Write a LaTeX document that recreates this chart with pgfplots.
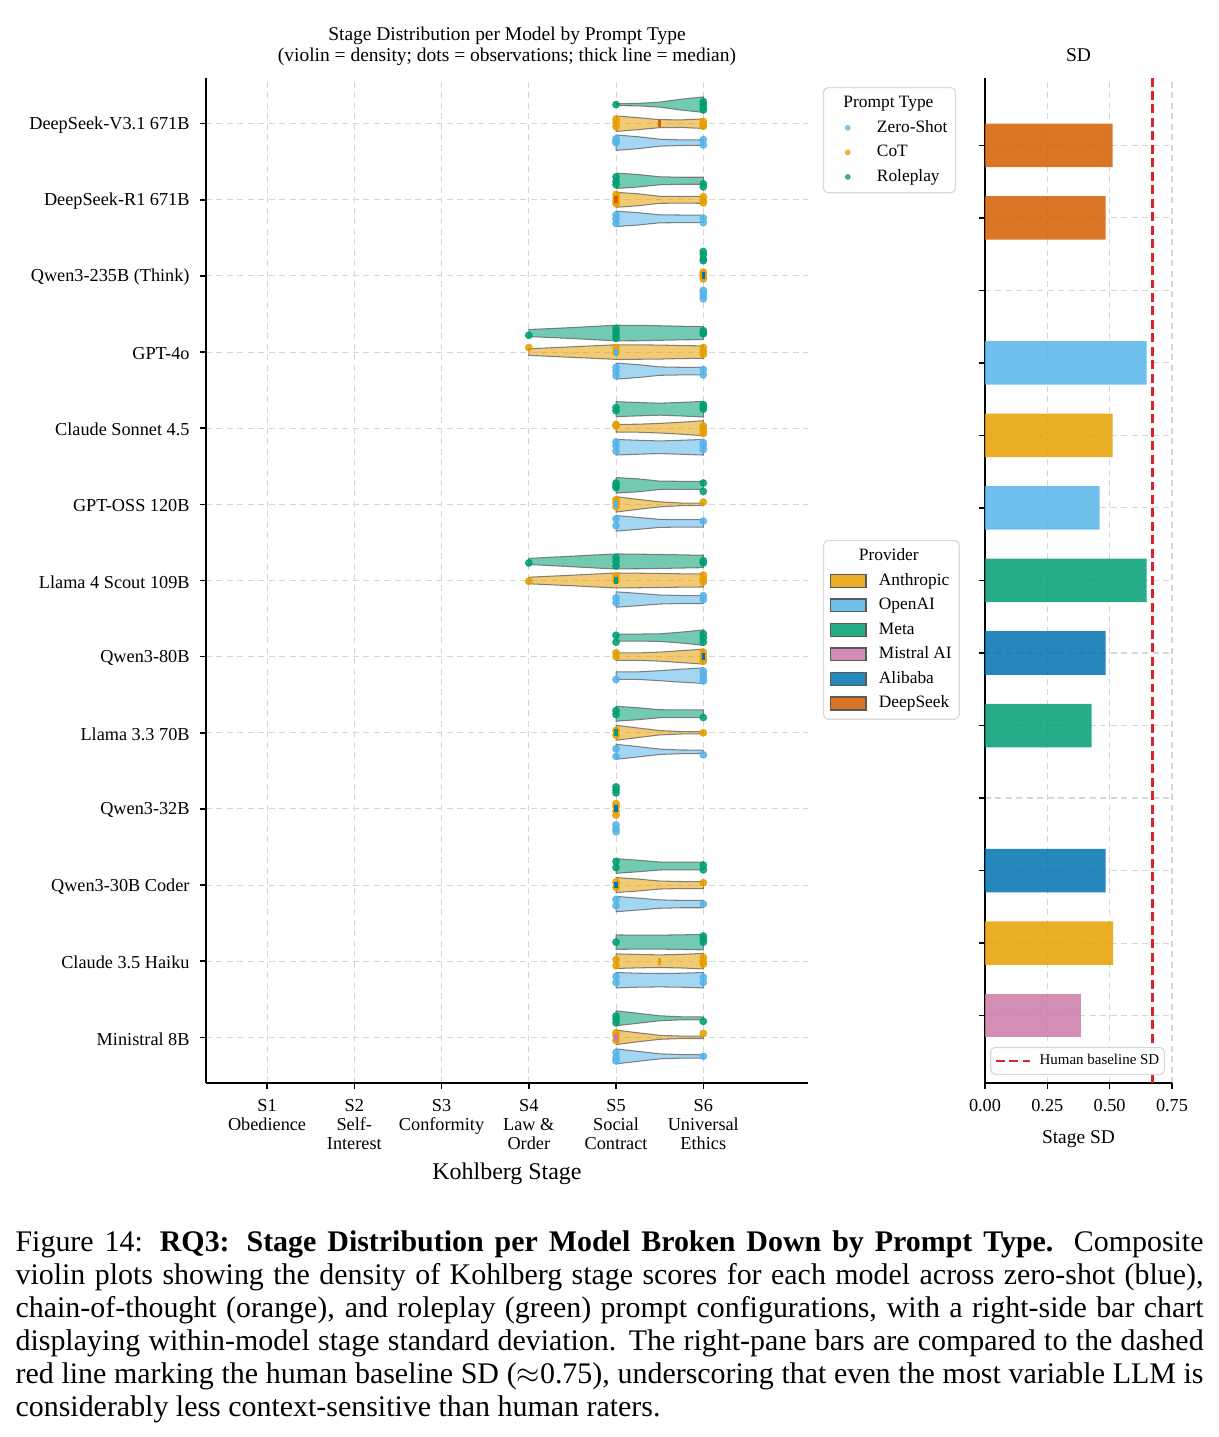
\documentclass[border=0pt]{standalone}
\usepackage{fontspec}
\setmainfont{Liberation Serif}
\usepackage{pgfplots}
\usepackage{pgfplotstable}
\pgfplotsset{compat=1.18}

\definecolor{zsC}{HTML}{56B4E9}
\definecolor{cotC}{HTML}{E69F00}
\definecolor{rpC}{HTML}{009E73}
\definecolor{anthC}{HTML}{E69F00}
\definecolor{oaiC}{HTML}{56B4E9}
\definecolor{metaC}{HTML}{009E73}
\definecolor{misC}{HTML}{CC79A7}
\definecolor{aliC}{HTML}{0072B2}
\definecolor{dsC}{HTML}{D55E00}
\definecolor{hbC}{HTML}{D62728}
\definecolor{gridC}{HTML}{D6D6D6}

\def\vk{0.013123}

% violin half-widths (px) : rows in polygon order
\pgfplotstableread{
x s rp cot zs
5 -1 1 7.8 7.7
5.25 -1 1.2 6 6
5.5 -1 2.5 4 3.5
5.75 -1 5.5 3.8 2.8
6 -1 7.7 4.8 2.7
6 1 7.7 4.8 2.7
5.75 1 5.5 3.8 2.8
5.5 1 2.5 4 3.5
5.25 1 1.2 6 6
5 1 1 7.8 7.7
}\vA
\pgfplotstableread{
x s rp cot zs
5 -1 7.7 7.5 7.7
5.25 -1 6.3 6 6.2
5.5 -1 4 3.5 4
5.75 -1 3.5 3.3 3.8
6 -1 3.5 3.5 3.8
6 1 3.5 3.5 3.8
5.75 1 3.5 3.3 3.8
5.5 1 4 3.5 4
5.25 1 6.3 6 6.2
5 1 7.7 7.5 7.7
}\vB
\pgfplotstableread{
x s rp cot zs
4 -1 3.5 3.3 nan
4.25 -1 4.5 4.3 nan
4.5 -1 5.5 5.3 nan
4.75 -1 6.7 6.3 nan
5 -1 7.8 7.3 8
5.25 -1 7.7 7.2 6.5
5.5 -1 7.3 7 4.2
5.75 -1 6.8 6.5 3.8
6 -1 6.5 6.2 3.8
6 1 6.5 6.2 3.8
5.75 1 6.8 6.5 3.8
5.5 1 7.3 7 4.2
5.25 1 7.7 7.2 6.5
5 1 7.8 7.3 8
4.75 1 6.7 6.3 nan
4.5 1 5.5 5.3 nan
4.25 1 4.5 4.3 nan
4 1 3.5 3.3 nan
}\vD
\pgfplotstableread{
x s rp cot zs
5 -1 7.5 3.8 7.8
5.25 -1 6.7 4 7
5.5 -1 6 4.8 6.3
5.75 -1 6.8 6 7
6 -1 7.8 7.5 7.8
6 1 7.8 7.5 7.8
5.75 1 6.8 6 7
5.5 1 6 4.8 6.3
5.25 1 6.7 4 7
5 1 7.5 3.8 7.8
}\vE
\pgfplotstableread{
x s rp cot zs
5 -1 7.8 7.7 7.8
5.25 -1 6.5 5 6
5.5 -1 4.2 2.5 4
5.75 -1 4 1.3 3.7
6 -1 4 1.2 3.7
6 1 4 1.2 3.7
5.75 1 4 1.3 3.7
5.5 1 4.2 2.5 4
5.25 1 6.5 5 6
5 1 7.8 7.7 7.8
}\vF
\pgfplotstableread{
x s rp cot zs
4 -1 3 3.3 nan
4.25 -1 4.2 4.3 nan
4.5 -1 5.3 5.3 nan
4.75 -1 6.5 6.4 nan
5 -1 7.5 7.5 7.7
5.25 -1 7.3 7.3 6.2
5.5 -1 7 7 4.5
5.75 -1 6.6 6.7 4
6 -1 6.2 6.5 4
6 1 6.2 6.5 4
5.75 1 6.6 6.7 4
5.5 1 7 7 4.5
5.25 1 7.3 7.3 6.2
5 1 7.5 7.5 7.7
4.75 1 6.5 6.4 nan
4.5 1 5.3 5.3 nan
4.25 1 4.2 4.3 nan
4 1 3 3.3 nan
}\vG
\pgfplotstableread{
x s rp cot zs
5 -1 3.5 3.7 3.7
5.25 -1 3.5 3.7 3.8
5.5 -1 3.8 4.5 5
5.75 -1 5.5 6 6.5
6 -1 7.7 7.5 7.8
6 1 7.7 7.5 7.8
5.75 1 5.5 6 6.5
5.5 1 3.8 4.5 5
5.25 1 3.5 3.7 3.8
5 1 3.5 3.7 3.7
}\vH
\pgfplotstableread{
x s rp cot zs
5 -1 7.5 7.5 7.5
5.25 -1 6 4.8 5.2
5.5 -1 4 2.2 2.7
5.75 -1 3.8 1.2 1.8
6 -1 3.8 1.2 1.7
6 1 3.8 1.2 1.7
5.75 1 3.8 1.2 1.8
5.5 1 4 2.2 2.7
5.25 1 6 4.8 5.2
5 1 7.5 7.5 7.5
}\vI
\pgfplotstableread{
x s rp cot zs
5 -1 7.3 7.5 7.7
5.25 -1 5.8 6 6
5.5 -1 4 4 4.2
5.75 -1 3.8 3.5 3.7
6 -1 4 3.5 3.7
6 1 4 3.5 3.7
5.75 1 3.8 3.5 3.7
5.5 1 4 4 4.2
5.25 1 5.8 6 6
5 1 7.3 7.5 7.7
}\vK
\pgfplotstableread{
x s rp cot zs
5 -1 7.2 7.3 7.7
5.25 -1 7 6.7 7
5.5 -1 7 6.3 6.7
5.75 -1 7.3 6.8 7
6 -1 7.7 7.8 7.7
6 1 7.7 7.8 7.7
5.75 1 7.3 6.8 7
5.5 1 7 6.3 6.7
5.25 1 7 6.7 7
5 1 7.2 7.3 7.7
}\vL
\pgfplotstableread{
x s rp cot zs
5 -1 7.5 7.3 7.5
5.25 -1 5 4.5 5
5.5 -1 2.5 2 2.5
5.75 -1 1.5 1.2 1.8
6 -1 1.5 1.2 1.7
6 1 1.5 1.2 1.7
5.75 1 1.5 1.2 1.8
5.5 1 2.5 2 2.5
5.25 1 5 4.5 5
5 1 7.5 7.3 7.5
}\vM

% observations (jittered)
\pgfplotstableread{
x y
5 0.25
6 0.29
6 0.25
6 0.21
6 0.18
5 -0.70
5 -0.76
5 -0.80
6 -0.79
6 -0.83
6 -1.68
6 -1.72
6 -1.78
6 -1.80
4 -2.78
5 -2.69
5 -2.73
5 -2.78
5 -2.82
6 -2.72
6 -2.75
6 -2.76
5 -3.73
5 -3.77
6 -3.69
6 -3.72
6 -3.75
5 -4.72
5 -4.75
5 -4.78
6 -4.72
6 -4.83
4 -5.77
5 -5.70
5 -5.75
5 -5.81
6 -5.74
6 -5.77
5 -6.72
5 -6.81
6 -6.70
6 -6.75
6 -6.81
5 -7.71
5 -7.76
6 -7.80
5 -8.71
5 -8.75
5 -8.79
5 -9.69
5 -9.77
6 -9.74
6 -9.80
5 -10.75
6 -10.67
6 -10.71
6 -10.75
5 -11.72
5 -11.76
5 -11.81
6 -11.79
}\dRP
\pgfplotstableread{
x y
5 0.06
5 0.01
5 -0.04
6 0.03
6 -0.01
6 -0.035
5 -0.93
5 -0.98
5 -1.02
5 -1.05
6 -0.96
6 -1.01
6 -1.04
6 -1.95
6 -1.97
6 -2.01
6 -2.04
4 -2.94
5 -2.94
5 -3.00
6 -2.94
6 -2.99
6 -3.03
5 -3.95
5 -3.97
6 -3.97
6 -4.00
6 -4.04
6 -4.07
5 -4.94
5 -4.98
5 -5.03
6 -4.97
4 -6.01
5 -5.94
5 -6.00
6 -5.93
6 -5.98
6 -6.02
5 -6.95
5 -7.00
6 -6.94
6 -6.99
6 -7.03
6 -7.06
5 -7.97
5 -8.03
6 -8.00
5 -8.93
5 -8.97
5 -9.03
5 -9.08
5 -9.96
5 -10.03
6 -9.97
5 -10.98
5 -11.06
6 -10.95
6 -11.00
6 -11.04
5 -11.94
5 -11.98
5 -12.04
6 -11.95
}\dCOT
\pgfplotstableread{
x y
5 -0.20
5 -0.23
5 -0.25
6 -0.21
6 -0.28
5 -1.20
5 -1.25
5 -1.31
6 -1.24
6 -1.30
6 -2.19
6 -2.22
6 -2.26
6 -2.30
5 -3.20
5 -3.25
5 -3.31
6 -3.23
6 -3.30
5 -4.18
5 -4.23
5 -4.30
6 -4.19
6 -4.23
6 -4.28
5 -5.19
5 -5.28
6 -5.22
5 -6.23
5 -6.29
6 -6.20
6 -6.25
5 -7.30
6 -7.19
6 -7.24
6 -7.28
6 -7.32
5 -8.21
5 -8.31
6 -8.29
5 -9.21
5 -9.26
5 -9.30
5 -10.19
5 -10.27
6 -10.25
5 -11.20
5 -11.28
6 -11.21
6 -11.28
5 -12.20
5 -12.27
5 -12.31
6 -12.25
}\dZS

\newcommand\violins[2]{%
 \addplot[vio, fill=rpC] table[x=x, y expr={-#2+0.25+\thisrow{s}*\thisrow{rp}*\vk}] {#1} -- cycle;
 \addplot[vio, fill=cotC] table[x=x, y expr={-#2+\thisrow{s}*\thisrow{cot}*\vk}] {#1} -- cycle;
 \addplot[vio, fill=zsC] table[x=x, y expr={-#2-0.25+\thisrow{s}*\thisrow{zs}*\vk}] {#1} -- cycle;
}

\pgfplotsset{
 vio/.style={draw=black!60, line width=0.35pt, fill opacity=0.55, draw opacity=0.8, forget plot},
 obs/.style={only marks, mark=*, mark size=1.1pt, color=#1, fill opacity=0.85, draw opacity=0.85, forget plot},
 med/.style={only marks, mark=|, mark size=1.15pt, mark options={draw=#1, line width=1.1pt, solid}, forget plot},
 hbar/.style={xbar, bar width=0.6, bar shift=0pt, fill=#1, fill opacity=0.85, draw=none, forget plot},
 common/.style={
  scale only axis, height=335.85pt, anchor=south west,
  axis lines*=left, axis line style={line width=0.6pt},
  tick align=outside, major tick length=2pt, tick style={black, line width=0.5pt},
  grid=major, major grid style={gridC, dash pattern=on 2pt off 1.5pt, line width=0.35pt},
  ytick={-12,-11,...,0},
  xticklabel style={align=center, font=\fontsize{6.1}{6.4}\selectfont, inner sep=0pt, yshift=-3.3pt},
  title style={align=center, font=\fontsize{6.5}{6.9}\selectfont, at={(0.5,1)}, anchor=south, inner sep=0pt},
 },
}

\begin{document}
\begin{tikzpicture}
\useasboundingbox (0,0) rectangle (407.36pt,480.21pt);

% ---------------- left: violins ----------------
\begin{axis}[common,
 at={(68.84pt,118.30pt)}, width=201.17pt,
 xmin=0.3, xmax=7.2, ymin=-12.6, ymax=0.6,
 xtick={1,...,6},
 xticklabels={S1\\Obedience, S2\\Self-\\Interest, S3\\Conformity, S4\\Law \&\\Order, S5\\Social\\Contract, S6\\Universal\\Ethics},
 yticklabels={Ministral 8B, Claude 3.5 Haiku, Qwen3-30B Coder, Qwen3-32B, Llama 3.3 70B, Qwen3-80B, Llama 4 Scout 109B, GPT-OSS 120B, Claude Sonnet 4.5, GPT-4o, Qwen3-235B (Think), DeepSeek-R1 671B, DeepSeek-V3.1 671B},
 yticklabel style={font=\fontsize{6.1}{6.4}\selectfont, inner sep=0pt, xshift=-3.3pt, yshift=-0.5pt},
 xlabel={Kohlberg Stage},
 xlabel style={font=\fontsize{8}{9}\selectfont, at={(axis description cs:0.5,0)}, anchor=base, inner sep=0pt, yshift=-32.4pt},
 title={Stage Distribution per Model by Prompt Type\\(violin = density; dots = observations; thick line = median)},
 title style={yshift=-2.1pt},
 legend style={at={(1.0249,0.991)}, anchor=north west, font=\fontsize{5.8}{6.5}\selectfont,
   draw=black!15, rounded corners=1.5pt, fill=white, inner xsep=2.2pt, inner ysep=2pt,
   row sep=1.7pt, column sep=8.5pt,
   nodes={inner sep=0.5pt, text height=4.2pt, text depth=1.3pt}},
 legend cell align=left,
 legend image code/.code={\path (-5.7pt,0pt); \draw[#1] plot coordinates {(0pt,0pt)};},
]
\addlegendimage{empty legend}
\addlegendentry{\hspace{-11.2pt}Prompt Type}
\addlegendimage{only marks, mark=*, mark size=0.75pt, color=zsC, fill opacity=0.7, draw opacity=0.7}
\addlegendentry{Zero-Shot}
\addlegendimage{only marks, mark=*, mark size=0.75pt, color=cotC, fill opacity=0.7, draw opacity=0.7}
\addlegendentry{CoT}
\addlegendimage{only marks, mark=*, mark size=0.75pt, color=rpC, fill opacity=0.7, draw opacity=0.7}
\addlegendentry{Roleplay}

\violins{\vA}{0}
\violins{\vB}{1}
\violins{\vD}{3}
\violins{\vE}{4}
\violins{\vF}{5}
\violins{\vG}{6}
\violins{\vH}{7}
\violins{\vI}{8}
\violins{\vK}{10}
\violins{\vL}{11}
\violins{\vM}{12}

\addplot[obs=rpC] table[x=x, y=y] {\dRP};
\addplot[obs=cotC] table[x=x, y=y] {\dCOT};
\addplot[obs=zsC] table[x=x, y=y] {\dZS};

% medians, coloured by provider
\addplot[med=dsC] coordinates {(5.5,0) (5,-1)};
\addplot[med=aliC] coordinates {(6,-2) (6,-7) (5,-9) (5,-10)};
\addplot[med=oaiC] coordinates {(5,-3) (5,-5)};
\addplot[med=anthC] coordinates {(6,-4) (5.5,-11)};
\addplot[med=metaC] coordinates {(5,-6) (5,-8)};
\addplot[med=misC] coordinates {(5,-12)};
\end{axis}

% ---------------- provider legend (hidden axis) ----------------
\begin{axis}[
 at={(68.84pt,118.30pt)}, anchor=south west, scale only axis, width=201.17pt, height=335.85pt,
 hide axis, xmin=0, xmax=1, ymin=0, ymax=1,
 legend style={at={(1.0249,0.5403)}, anchor=north west, font=\fontsize{5.8}{6.5}\selectfont,
   draw=black!15, rounded corners=1.5pt, fill=white, inner xsep=2pt, inner ysep=2pt,
   row sep=1.7pt, column sep=3.6pt,
   nodes={inner sep=0.5pt, text height=4.2pt, text depth=1.3pt}},
 legend cell align=left,
 legend image code/.code={\draw[sharp corners, #1] (0pt,-2.15pt) rectangle (12pt,2.15pt);},
]
\addlegendimage{empty legend}
\addlegendentry{\hspace{-6.7pt}Provider}
\addlegendimage{fill=anthC, fill opacity=0.85, draw=black!65, line width=0.4pt}
\addlegendentry{Anthropic}
\addlegendimage{fill=oaiC, fill opacity=0.85, draw=black!65, line width=0.4pt}
\addlegendentry{OpenAI}
\addlegendimage{fill=metaC, fill opacity=0.85, draw=black!65, line width=0.4pt}
\addlegendentry{Meta}
\addlegendimage{fill=misC, fill opacity=0.85, draw=black!65, line width=0.4pt}
\addlegendentry{Mistral AI}
\addlegendimage{fill=aliC, fill opacity=0.85, draw=black!65, line width=0.4pt}
\addlegendentry{Alibaba}
\addlegendimage{fill=dsC, fill opacity=0.85, draw=black!65, line width=0.4pt}
\addlegendentry{DeepSeek}
\end{axis}

% ---------------- right: SD bars ----------------
\begin{axis}[common,
 at={(329.16pt,118.30pt)}, width=62.49pt,
 xmin=0, xmax=0.75, ymin=-12.93, ymax=0.93,
 xtick={0,0.25,0.5,0.75},
 xticklabel style={/pgf/number format/.cd, fixed, fixed zerofill, precision=2, assume math mode=true},
 yticklabels={},
 xlabel={Stage SD},
 xlabel style={font=\fontsize{6.5}{7}\selectfont, at={(axis description cs:0.5,0)}, anchor=base, inner sep=0pt, yshift=-20.2pt},
 title={SD},
 title style={yshift=-0.7pt},
 legend style={at={(0.9626,0.008)}, anchor=south east, font=\fontsize{5}{6}\selectfont,
   draw=black!15, rounded corners=1.5pt, fill=white, inner xsep=1.2pt, inner ysep=1.65pt,
   column sep=2.3pt, nodes={inner sep=0.5pt, text height=3.6pt, text depth=1.1pt}},
 legend image code/.code={\draw[sharp corners, #1] (0pt,0pt) -- (11.4pt,0pt);},
]
\addplot[hbar=dsC] coordinates {(0.512,0) (0.484,-1)};
\addplot[hbar=oaiC] coordinates {(0.648,-3) (0.460,-5)};
\addplot[hbar=anthC] coordinates {(0.512,-4) (0.514,-11)};
\addplot[hbar=metaC] coordinates {(0.648,-6) (0.428,-8)};
\addplot[hbar=aliC] coordinates {(0.484,-7) (0.484,-10)};
\addplot[hbar=misC] coordinates {(0.384,-12)};
\addplot[hbC, line width=0.9pt, dash pattern=on 3pt off 1.5pt] coordinates {(0.672,-12.93) (0.672,0.93)};
\addlegendentry{Human baseline SD}
\end{axis}

% ---------------- caption ----------------
\node[anchor=north west, inner sep=0pt, text width=397pt, align=justify,
      font=\fontsize{10}{11}\selectfont] at (5.01pt,69.0pt)
{Figure 14: \textbf{RQ3: Stage Distribution per Model Broken Down by Prompt Type.} Composite\linebreak
violin plots showing the density of Kohlberg stage scores for each model across zero-shot (blue),\linebreak
chain-of-thought (orange), and roleplay (green) prompt configurations, with a right-side bar chart\linebreak
displaying within-model stage standard deviation. The right-pane bars are compared to the dashed\linebreak
red line marking the human baseline SD ($\approx$0.75), underscoring that even the most variable LLM is\linebreak
considerably less context-sensitive than human raters.};
\end{tikzpicture}
\end{document}
